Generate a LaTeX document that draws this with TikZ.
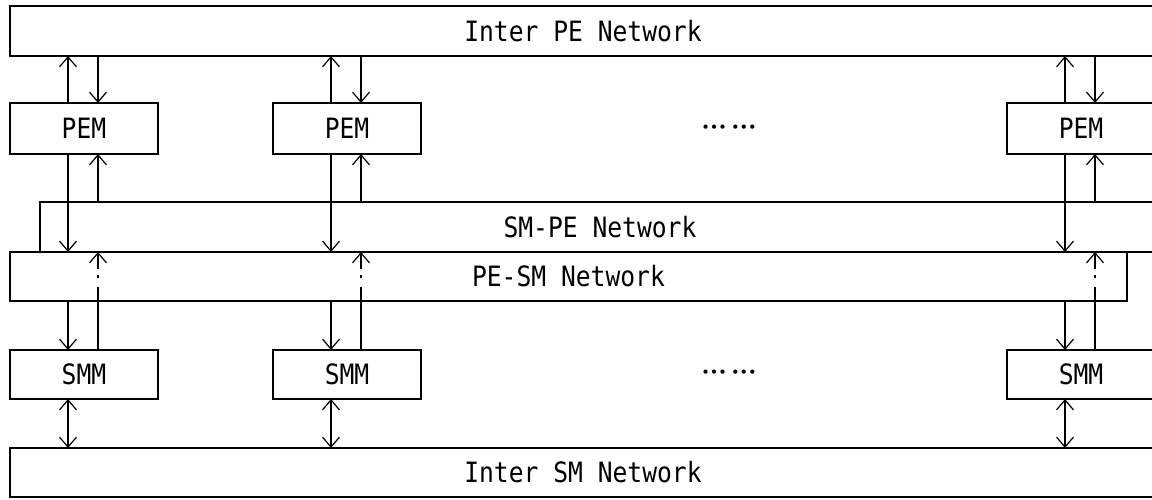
\documentclass[tikz,border=0pt]{standalone}
\usepackage{fontspec}
\usetikzlibrary{arrows.meta, positioning}
\newfontfamily\netfont[FakeStretch=0.88]{DejaVu Sans Mono}
\newfontfamily\gapfont{DejaVu Sans}
\tikzset{
  net box/.style={
    rectangle, draw=black, line width=1.6pt,
    inner sep=0pt, outer sep=0pt, minimum height=50pt,
    font=\netfont\fontsize{28}{30}\selectfont
  },
  mod box/.style={
    net box, minimum width=148pt
  },
  link/.style={
    -{Straight Barb[length=10pt,width=17pt,line width=1.2pt]}, line width=1.2pt, draw=black
  },
  both link/.style={
    {Straight Barb[length=10pt,width=17pt,line width=1.2pt]}-{Straight Barb[length=10pt,width=17pt,line width=1.2pt]},
    line width=1.2pt, draw=black
  },
  wire/.style={
    line width=1.2pt, draw=black
  },
  through link/.style={
    link, dash pattern=on 14pt off 9pt on 3pt off 6pt on 30pt
  },
  gap dots/.style={
    inner sep=0pt, font=\gapfont\fontsize{14.5}{16}\selectfont
  }
}

\begin{document}
\begin{tikzpicture}[x=1pt, y=1pt]
  \useasboundingbox (0,0) rectangle (1152,499);
  % Networks
  \node (ipe) [net box, minimum width=1146pt] at (583,468) {Inter PE Network};
  \node (smpe) [net box, minimum width=1120pt] at (600,272) {SM-PE Network};
  \node (pesm) [net box, minimum width=1117pt, minimum height=49pt] at (568.5,222.5) {PE-SM Network};
  \node (ism) [net box, minimum width=1146pt, minimum height=49pt] at (583,26.5) {Inter SM Network};
  % Row 1: PE modules
  \node (pem1) [mod box, minimum height=51pt] at (84,370.5) {PEM};
  \node (pem2) [mod box, minimum height=51pt, right=115pt of pem1] {PEM};
  \node (pem3) [mod box, minimum height=51pt, right=586pt of pem2] {PEM};
  \node (dots1) [gap dots] at (729,370) {•••\kern4pt•••};
  % Row 2: SM modules
  \node (smm1) [mod box, minimum height=49pt] at (84,124.5) {SMM};
  \node (smm2) [mod box, minimum height=49pt, right=115pt of smm1] {SMM};
  \node (smm3) [mod box, minimum height=49pt, right=586pt of smm2] {SMM};
  \node (dots2) [gap dots] at (729,125) {•••\kern4pt•••};

  % Column 1
  \draw [link] ([xshift=-16pt]pem1.north) -- ([xshift=-16pt]pem1.north |- ipe.south);
  \draw [link] ([xshift=14pt]pem1.north |- ipe.south) -- ([xshift=14pt]pem1.north);
  \draw [link] ([xshift=-16pt]pem1.south) -- ([xshift=-16pt]pem1.south |- pesm.north);
  \draw [link] ([xshift=14pt]pem1.south |- smpe.north) -- ([xshift=14pt]pem1.south);
  \draw [link] ([xshift=-16pt]smm1.north |- pesm.south) -- ([xshift=-16pt]smm1.north);
  \draw [wire] ([xshift=14pt]smm1.north) -- ([xshift=14pt]smm1.north |- pesm.south);
  \draw [through link] ([xshift=14pt]smm1.north |- pesm.south) -- ([xshift=14pt]smm1.north |- pesm.north);
  \draw [both link] ([xshift=-16pt]smm1.south) -- ([xshift=-16pt]smm1.south |- ism.north);

  % Column 2
  \draw [link] ([xshift=-16pt]pem2.north) -- ([xshift=-16pt]pem2.north |- ipe.south);
  \draw [link] ([xshift=14pt]pem2.north |- ipe.south) -- ([xshift=14pt]pem2.north);
  \draw [link] ([xshift=-16pt]pem2.south) -- ([xshift=-16pt]pem2.south |- pesm.north);
  \draw [link] ([xshift=14pt]pem2.south |- smpe.north) -- ([xshift=14pt]pem2.south);
  \draw [link] ([xshift=-16pt]smm2.north |- pesm.south) -- ([xshift=-16pt]smm2.north);
  \draw [wire] ([xshift=14pt]smm2.north) -- ([xshift=14pt]smm2.north |- pesm.south);
  \draw [through link] ([xshift=14pt]smm2.north |- pesm.south) -- ([xshift=14pt]smm2.north |- pesm.north);
  \draw [both link] ([xshift=-16pt]smm2.south) -- ([xshift=-16pt]smm2.south |- ism.north);

  % Column 3
  \draw [link] ([xshift=-16pt]pem3.north) -- ([xshift=-16pt]pem3.north |- ipe.south);
  \draw [link] ([xshift=14pt]pem3.north |- ipe.south) -- ([xshift=14pt]pem3.north);
  \draw [link] ([xshift=-16pt]pem3.south) -- ([xshift=-16pt]pem3.south |- pesm.north);
  \draw [link] ([xshift=14pt]pem3.south |- smpe.north) -- ([xshift=14pt]pem3.south);
  \draw [link] ([xshift=-16pt]smm3.north |- pesm.south) -- ([xshift=-16pt]smm3.north);
  \draw [wire] ([xshift=14pt]smm3.north) -- ([xshift=14pt]smm3.north |- pesm.south);
  \draw [through link] ([xshift=14pt]smm3.north |- pesm.south) -- ([xshift=14pt]smm3.north |- pesm.north);
  \draw [both link] ([xshift=-16pt]smm3.south) -- ([xshift=-16pt]smm3.south |- ism.north);
\end{tikzpicture}
\end{document}
